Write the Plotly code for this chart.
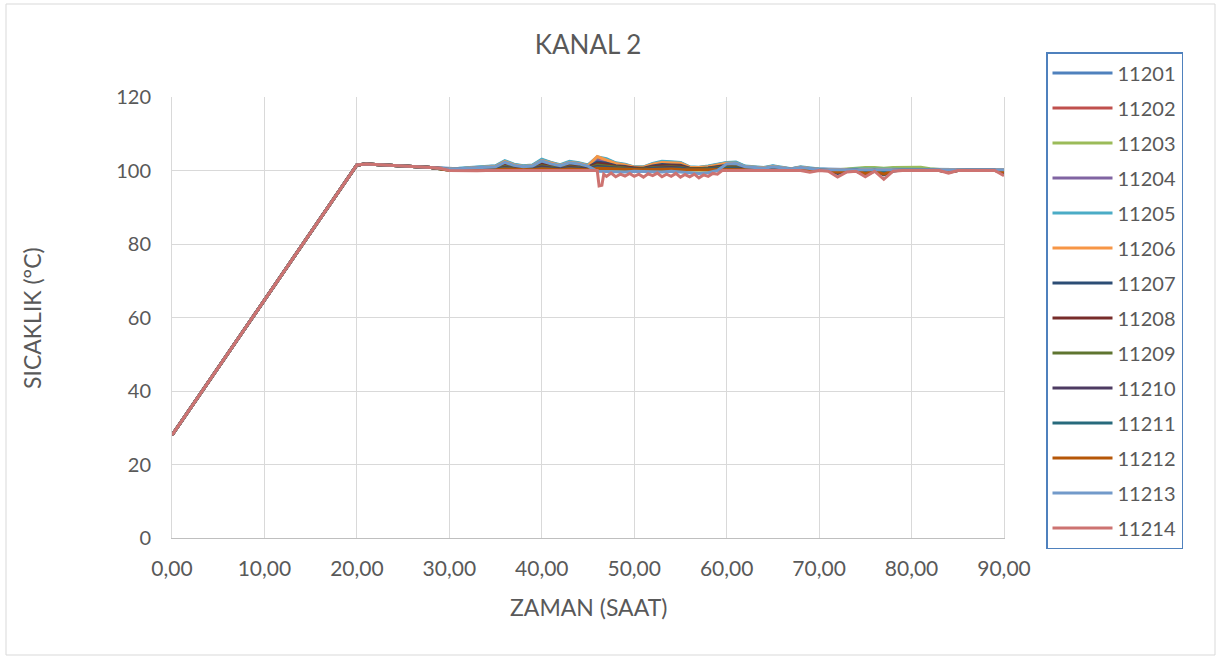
import plotly.graph_objects as go

time_h = [0, 20, 21, 22, 25, 28, 30, 31, 32, 33, 34, 35, 36, 37, 38, 39, 40, 41, 42, 43, 44, 45, 46, 47, 48, 49,
          50, 51, 52, 53, 54, 55, 56, 57, 58, 59, 60, 61, 62, 63, 64, 65, 66, 67, 68, 69, 70, 71, 72, 73, 74,
          75, 76, 77, 78, 79, 80, 81, 82, 83, 84, 85, 86, 87, 88, 89, 90]

s11201 = [28.0, 101.5, 101.8, 101.6, 101.2, 100.8, 100.5, 100.5, 100.7, 100.8, 100.9, 101.2, 102.5, 101.6, 101.2, 101.4,
          102.9, 102.1, 101.4, 102.3, 102.0, 101.4, 103.4, 103.0, 102.0, 101.6, 100.9, 100.9, 101.8, 102.3, 102.3, 102.1,
          100.9, 100.8, 101.1, 101.6, 102.1, 102.2, 101.1, 100.9, 100.7, 101.2, 100.7, 100.5, 100.9, 100.5, 100.4, 100.3,
          100.2, 100.3, 100.4, 100.4, 100.4, 100.4, 100.4, 100.4, 100.4, 100.4, 100.3, 100.2, 100.2, 100.2, 100.2, 100.2,
          100.2, 100.2, 100.2]
s11202 = [28.0, 101.5, 101.8, 101.6, 101.2, 100.8, 100.4, 100.5, 100.6, 100.7, 100.8, 101.0, 102.1, 101.4, 101.0, 101.1,
          102.4, 101.7, 101.2, 102.0, 101.7, 101.1, 102.9, 102.5, 101.7, 101.4, 100.8, 100.8, 101.5, 102.0, 101.9, 101.7,
          100.8, 100.7, 100.9, 101.4, 101.7, 101.8, 100.9, 100.8, 100.6, 101.0, 100.6, 100.4, 100.8, 100.5, 100.3, 100.2,
          100.2, 100.2, 100.3, 100.3, 100.3, 100.3, 100.3, 100.3, 100.3, 100.3, 100.2, 100.2, 100.2, 100.2, 100.2, 100.2,
          100.2, 100.2, 100.2]
s11203 = [28.0, 101.5, 101.8, 101.6, 101.2, 100.8, 100.1, 100.1, 100.1, 100.1, 100.1, 100.1, 100.3, 100.2, 100.1, 100.2,
          100.3, 100.2, 100.2, 100.3, 100.2, 100.2, 100.4, 100.3, 100.2, 100.2, 100.1, 100.1, 100.2, 100.3, 100.3, 100.2,
          100.1, 100.1, 100.1, 100.2, 100.2, 100.2, 100.1, 100.1, 100.1, 100.1, 100.1, 100.1, 100.1, 100.1, 100.1, 100.1,
          100.2, 100.4, 100.7, 100.8, 100.8, 100.6, 100.8, 100.9, 100.9, 100.9, 100.5, 100.2, 100.1, 100.1, 100.1, 100.1,
          100.1, 100.1, 100.1]
s11204 = [28.0, 101.5, 101.8, 101.6, 101.2, 100.8, 100.3, 100.4, 100.6, 100.6, 100.7, 100.9, 102.0, 101.3, 100.9, 101.1,
          102.2, 101.6, 101.1, 101.8, 101.5, 101.1, 102.7, 102.3, 101.5, 101.3, 100.7, 100.7, 101.4, 101.8, 101.8, 101.6,
          100.7, 100.6, 100.8, 101.3, 101.6, 101.7, 100.8, 100.7, 100.6, 100.9, 100.6, 100.4, 100.7, 100.4, 100.3, 100.2,
          99.6, 100.2, 99.8, 98.6, 99.8, 99.4, 100.2, 100.3, 100.3, 100.3, 100.2, 100.1, 99.6, 100.1, 100.1, 100.1,
          100.1, 100.1, 99.3]
s11205 = [28.0, 101.5, 101.8, 101.6, 101.2, 100.8, 100.5, 100.6, 100.8, 100.9, 101.0, 101.3, 102.7, 101.7, 101.3, 101.5,
          103.1, 102.2, 101.6, 102.5, 102.1, 101.5, 103.7, 103.2, 102.1, 101.7, 101.0, 101.0, 101.9, 102.5, 102.4, 102.2,
          101.0, 100.9, 101.2, 101.7, 102.2, 102.3, 101.2, 101.0, 100.8, 101.3, 100.8, 100.5, 101.0, 100.6, 100.4, 100.3,
          100.2, 100.3, 100.4, 100.4, 100.4, 100.4, 100.4, 100.4, 100.4, 100.4, 100.3, 100.2, 100.2, 100.2, 100.2, 100.2,
          100.2, 100.2, 100.2]
s11206 = [28.0, 101.5, 101.8, 101.6, 101.2, 100.8, 100.4, 100.5, 100.7, 100.8, 100.9, 101.1, 102.4, 101.5, 101.1, 101.3,
          102.7, 102.0, 101.4, 102.2, 101.9, 101.3, 103.8, 102.8, 101.9, 101.5, 100.9, 100.9, 101.7, 102.2, 102.1, 102.0,
          100.9, 100.8, 101.0, 101.5, 102.0, 102.0, 101.0, 100.9, 100.7, 101.1, 100.7, 100.4, 100.9, 100.5, 100.3, 100.3,
          100.2, 100.3, 100.3, 100.3, 100.3, 100.3, 100.3, 100.3, 100.3, 100.3, 100.3, 100.2, 100.2, 100.2, 100.2, 100.2,
          100.2, 100.2, 100.2]
s11207 = [28.0, 101.5, 101.8, 101.6, 101.2, 100.8, 100.3, 100.4, 100.5, 100.5, 100.6, 100.8, 101.7, 101.1, 100.8, 100.9,
          101.9, 101.4, 101.0, 101.6, 101.3, 100.9, 102.3, 102.0, 101.3, 101.1, 100.6, 100.6, 101.2, 101.6, 101.5, 101.4,
          100.6, 100.5, 100.7, 101.1, 101.4, 101.4, 100.7, 100.6, 100.5, 100.8, 100.5, 100.3, 100.6, 100.4, 100.2, 100.0,
          99.2, 99.8, 100.2, 99.3, 99.9, 98.8, 99.8, 100.2, 100.2, 100.2, 100.1, 100.1, 99.5, 100.0, 100.1, 100.1,
          100.1, 100.1, 99.2]
s11208 = [28.0, 101.5, 101.8, 101.6, 101.2, 100.8, 100.3, 100.3, 100.4, 100.5, 100.5, 100.7, 101.4, 100.9, 100.7, 100.8,
          101.6, 101.2, 100.8, 101.3, 101.1, 100.8, 101.9, 101.7, 101.1, 100.9, 100.5, 100.5, 101.0, 101.3, 101.3, 101.2,
          100.5, 100.5, 100.6, 100.9, 101.2, 101.2, 100.6, 100.5, 100.4, 100.7, 100.4, 100.3, 100.5, 100.3, 100.2, 100.1,
          99.8, 100.1, 100.2, 99.6, 100.1, 99.5, 100.1, 100.2, 100.2, 100.2, 100.1, 100.1, 99.8, 100.1, 100.1, 100.1,
          100.1, 100.1, 99.6]
s11209 = [28.0, 101.5, 101.8, 101.6, 101.2, 100.8, 100.2, 100.2, 100.3, 100.4, 100.4, 100.5, 101.1, 100.7, 100.5, 100.6,
          101.3, 100.9, 100.6, 101.0, 100.9, 100.6, 101.5, 101.3, 100.9, 100.7, 100.4, 100.4, 100.8, 101.0, 101.0, 100.9,
          100.4, 100.4, 100.5, 100.7, 100.9, 101.0, 100.5, 100.4, 100.3, 100.5, 100.3, 100.2, 100.4, 100.2, 100.2, 100.1,
          99.7, 100.1, 100.2, 99.8, 100.1, 99.7, 100.1, 100.2, 100.2, 100.2, 100.1, 100.1, 99.8, 100.1, 100.1, 100.1,
          100.1, 100.1, 99.7]
s11210 = [28.0, 101.5, 101.8, 101.6, 101.2, 100.8, 100.2, 100.2, 100.2, 100.3, 100.3, 100.4, 100.8, 100.5, 100.4, 100.5,
          101.0, 100.7, 100.5, 100.8, 100.7, 100.5, 101.1, 101.0, 100.7, 100.5, 100.3, 100.3, 100.6, 100.8, 100.8, 100.7,
          100.3, 100.3, 100.4, 100.5, 100.7, 100.7, 100.4, 100.3, 100.2, 100.4, 100.2, 100.2, 100.3, 100.2, 100.1, 100.0,
          99.3, 99.9, 100.1, 99.0, 99.9, 99.3, 100.0, 100.1, 100.1, 100.1, 100.1, 100.0, 99.6, 100.0, 100.1, 100.1,
          100.1, 100.1, 99.4]
s11211 = [28.0, 101.5, 101.8, 101.6, 101.2, 100.8, 100.1, 100.1, 100.2, 100.2, 100.2, 100.3, 100.6, 100.4, 100.3, 100.3,
          100.6, 100.5, 100.3, 100.5, 100.4, 100.3, 100.8, 100.7, 100.4, 100.4, 100.2, 100.2, 100.4, 100.5, 100.5, 100.5,
          100.2, 100.2, 100.2, 100.4, 100.5, 100.5, 100.2, 100.2, 100.2, 100.3, 100.2, 100.1, 100.2, 100.1, 100.1, 100.0,
          99.6, 100.0, 100.1, 99.5, 100.0, 99.6, 100.0, 100.1, 100.1, 100.1, 100.0, 100.0, 99.7, 100.0, 100.0, 100.0,
          100.0, 100.0, 99.6]
s11212 = [28.0, 101.5, 101.8, 101.6, 101.2, 100.8, 100.1, 100.1, 100.1, 100.1, 100.2, 100.2, 100.4, 100.3, 100.2, 100.2,
          100.5, 100.3, 100.2, 100.4, 100.3, 100.2, 100.6, 100.5, 100.3, 100.3, 100.2, 100.2, 100.3, 100.4, 100.4, 100.3,
          100.2, 100.1, 100.2, 100.3, 100.3, 100.4, 100.2, 100.2, 100.1, 100.2, 100.1, 100.1, 100.2, 100.1, 100.1, 100.0,
          99.5, 100.0, 100.0, 99.2, 99.9, 99.0, 100.0, 100.0, 100.0, 100.0, 100.0, 100.0, 99.6, 100.0, 100.0, 100.0,
          100.0, 100.0, 99.5]
s11213 = [28.0, 101.5, 101.8, 101.6, 101.2, 100.8, 100.4, 100.5, 100.6, 100.7, 100.8, 101.0, 102.2, 101.4, 101.0, 101.2,
          102.6, 101.8, 101.3, 102.1, 101.8, 101.2, 99.8, 99.7, 99.8, 99.6, 99.8, 99.7, 99.8, 99.6, 99.8, 99.5,
          99.4, 99.2, 99.4, 100.0, 101.8, 101.9, 101.0, 100.8, 100.6, 101.0, 100.6, 100.4, 100.8, 100.5, 100.3, 100.2,
          100.2, 100.2, 100.3, 100.3, 100.3, 100.3, 100.3, 100.3, 100.3, 100.3, 100.2, 100.2, 100.2, 100.2, 100.2, 100.2,
          100.2, 100.2, 100.2]

time_11214 = [0, 20, 21, 22, 25, 28, 29, 30, 31, 32, 33, 34, 35, 36, 37, 38, 39, 40, 41, 42, 43, 44, 45, 46,
              46.2, 46.5, 46.7, 47, 47.5, 48, 48.5, 49, 49.5, 50, 50.5, 51, 51.5, 52, 52.5, 53, 53.5, 54, 54.5,
              55, 55.5, 56, 56.5, 57, 57.5, 58, 58.5, 59, 59.5, 60, 61, 62, 63, 64, 65, 66, 67, 68, 69, 70, 71,
              72, 73, 74, 75, 76, 77, 78, 79, 80, 81, 82, 83, 84, 85, 86, 87, 88, 89, 90]
s11214 = [28.0, 101.5, 101.8, 101.6, 101.2, 100.8, 100.6, 100.0, 99.9, 100.0, 99.9, 100.0, 100.0, 100.0, 99.9, 100.0,
          100.0, 99.9, 100.0, 100.0, 100.0, 99.9, 100.0, 100.0,
          95.8, 96.0, 99.0, 98.4, 99.3, 98.3, 99.0, 98.5, 99.2, 98.4, 99.0, 98.2, 99.1, 98.6, 99.3, 98.3, 99.0,
          98.4, 99.2, 98.2, 98.9, 98.3, 99.0, 98.0, 98.8, 98.4, 99.2, 99.0, 100.0, 100.0, 100.0, 100.0, 100.0,
          99.9, 100.0, 99.9, 100.0, 100.0, 99.5, 100.0, 99.8, 98.2, 99.6, 99.8, 98.3, 99.8, 97.6, 99.8, 100.0,
          100.0, 100.0, 100.0, 100.0, 99.3, 100.0, 100.0, 100.0, 100.0, 100.0, 98.6]

series_names = ["11201", "11202", "11203", "11204", "11205", "11206", "11207",
                "11208", "11209", "11210", "11211", "11212", "11213", "11214"]
series_values = [s11201, s11202, s11203, s11204, s11205, s11206, s11207,
                 s11208, s11209, s11210, s11211, s11212, s11213, s11214]
series_times = [time_h] * 13 + [time_11214]
colors = ["#4F81BD", "#C0504D", "#9BBB59", "#8064A2", "#4BACC6", "#F79646", "#2C4D75",
          "#772C2A", "#5F7530", "#4D3B62", "#276A7C", "#B65708", "#729ACA", "#CD7371"]

x_ticks = [0, 10, 20, 30, 40, 50, 60, 70, 80, 90]
y_ticks = [0, 20, 40, 60, 80, 100, 120]

FONT = "Lato, 'Open Sans', sans-serif"
GREY = "#595959"

fig = go.Figure()
for name, t, v, c in zip(series_names, series_times, series_values, colors):
    fig.add_trace(go.Scatter(x=t, y=v, mode="lines", name=name, legendgroup=name,
                             line=dict(color=c, width=3)))

W, H = 1217, 658
L, R, T, B = 172, 1004, 97, 538
pw, ph = R - L, B - T

fig.update_layout(
    width=W, height=H,
    margin=dict(l=L, r=W - R, t=T, b=H - B),
    paper_bgcolor="white", plot_bgcolor="white",
    separators=", ",
    font=dict(family=FONT, color=GREY, size=20),
    title=dict(text="KANAL 2", x=(L + R) / 2 / W, xanchor="center",
               y=1 - 45 / H, yanchor="middle", yref="container",
               font=dict(size=26, color=GREY, family=FONT)),
    showlegend=True,
    legend=dict(x=(1046 - L) / pw, y=(B - 52) / ph, xanchor="left", yanchor="top",
                bordercolor="#4F81BD", borderwidth=1.5, bgcolor="white",
                font=dict(size=20, color=GREY, family=FONT),
                tracegroupgap=6, itemwidth=60, maxheight=600),
    xaxis=dict(range=[0, 90], tickvals=x_ticks, tickformat=".2f",
               showgrid=True, gridcolor="#d9d9d9", gridwidth=1,
               showline=True, linecolor="#bfbfbf", linewidth=1,
               zeroline=False, ticks="", ticklabelstandoff=12,
               tickfont=dict(size=21, color=GREY)),
    yaxis=dict(range=[0, 120], tickvals=y_ticks,
               showgrid=True, gridcolor="#d9d9d9", gridwidth=1,
               showline=True, linecolor="#d9d9d9", linewidth=1, mirror=True,
               zeroline=False, ticks="", ticklabelstandoff=16,
               tickfont=dict(size=20, color=GREY)),
    annotations=[
        dict(text="ZAMAN (SAAT)", x=0.5, y=(B - 607) / ph, xref="paper", yref="paper",
             xanchor="center", yanchor="middle", showarrow=False,
             font=dict(size=23, color=GREY, family=FONT)),
        dict(text="SICAKLIK (°C)", x=(32 - L) / pw, y=(B - 318) / ph, xref="paper", yref="paper",
             xanchor="center", yanchor="middle", showarrow=False, textangle=-90,
             font=dict(size=23, color=GREY, family=FONT)),
    ],
    shapes=[
        dict(type="rect", xref="paper", yref="paper",
             x0=(6 - L) / pw, x1=(1215 - L) / pw, y0=(B - 655) / ph, y1=(B - 4) / ph,
             line=dict(color="#d9d9d9", width=1), fillcolor="rgba(0,0,0,0)", layer="below"),
    ],
)

fig.write_html("out.html", config={"displayModeBar": False},
               post_script="document.body.style.margin='0';")
